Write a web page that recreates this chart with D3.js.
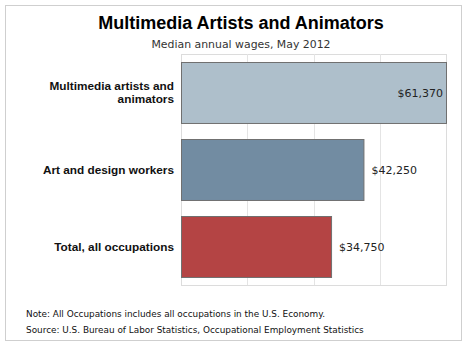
<!DOCTYPE html>
<html><head><meta charset="utf-8">
<script src="https://cdn.jsdelivr.net/npm/d3@7/dist/d3.min.js"></script>
<style>
html,body{margin:0;padding:0;background:#fff;}
svg{display:block;}
</style></head>
<body>
<svg id="chart" width="467" height="347"></svg>
<script>
const categories = ["Multimedia artists and animators", "Art and design workers", "Total, all occupations"];
const categoryLines = [["Multimedia artists and", "animators"], ["Art and design workers"], ["Total, all occupations"]];
const wages = [61370, 42250, 34750];
const valueLabels = ["$61,370", "$42,250", "$34,750"];
const barColors = ["#aebfcb", "#728ca2", "#b44444"];
const title = "Multimedia Artists and Animators";
const subtitle = "Median annual wages, May 2012";
const notes = ["Note: All Occupations includes all occupations in the U.S. Economy.",
               "Source: U.S. Bureau of Labor Statistics, Occupational Employment Statistics"];

const svg = d3.select("#chart");
const plot = {left: 181, right: 446, top: 54, bottom: 285};

// outer frame
svg.append("rect").attr("x", 5.5).attr("y", 5.5).attr("width", 456).attr("height", 335)
  .attr("fill", "#fff").attr("stroke", "#cfcfcf").attr("stroke-width", 1);

svg.append("text").attr("x", 241).attr("y", 29).attr("text-anchor", "middle")
  .attr("font-family", "Liberation Sans, Arial, sans-serif").attr("font-weight", "bold")
  .attr("font-size", 18).attr("fill", "#000").text(title);
svg.append("text").attr("x", 241).attr("y", 48).attr("text-anchor", "middle")
  .attr("font-family", "DejaVu Sans, Verdana, sans-serif")
  .attr("font-size", 10.9).attr("fill", "#333").text(subtitle);

const x = d3.scaleLinear().domain([0, d3.max(wages)]).range([plot.left, plot.right]);
const y = d3.scaleBand().domain(categories).range([plot.top, plot.bottom])
  .paddingInner(0.208).paddingOuter(0.104);

// plot border
svg.append("rect").attr("x", plot.left + 0.5).attr("y", plot.top + 0.5)
  .attr("width", plot.right - plot.left).attr("height", plot.bottom - plot.top)
  .attr("fill", "#fff").attr("stroke", "#dcdcdc");

// gridlines
const gridTicks = d3.range(1, 4).map(i => d3.max(wages) * i / 4);
svg.append("g").selectAll("line").data(gridTicks).join("line")
  .attr("x1", d => Math.round(x(d)) + 0.5).attr("x2", d => Math.round(x(d)) + 0.5)
  .attr("y1", plot.top).attr("y2", plot.bottom)
  .attr("stroke", "#e4e4e4");

// bars
svg.append("g").selectAll("rect").data(wages).join("rect")
  .attr("x", plot.left + 0.5)
  .attr("y", (d, i) => Math.round(y(categories[i])) + 0.5)
  .attr("width", d => x(d) - plot.left)
  .attr("height", y.bandwidth())
  .attr("fill", (d, i) => barColors[i])
  .attr("stroke", "#707070").attr("stroke-width", 1);

// value labels
svg.append("g").selectAll("text").data(wages).join("text")
  .attr("x", (d, i) => i === 0 ? x(d) - 3 : x(d) + 8)
  .attr("y", (d, i) => y(categories[i]) + y.bandwidth() / 2 + 4)
  .attr("text-anchor", (d, i) => i === 0 ? "end" : "start")
  .attr("font-family", "DejaVu Sans, Verdana, sans-serif")
  .attr("font-size", 11).attr("fill", "#222")
  .text((d, i) => valueLabels[i]);

// category labels
const cat = svg.append("g").selectAll("text").data(categories).join("text")
  .attr("text-anchor", "end")
  .attr("font-family", "Liberation Sans, Arial, sans-serif").attr("font-weight", "bold")
  .attr("font-size", 11.8).attr("fill", "#111");
cat.each(function(d, i) {
  const lines = categoryLines[i];
  const cy = y(d) + y.bandwidth() / 2;
  const startY = cy + 4 - (lines.length - 1) * 6.5;
  d3.select(this).selectAll("tspan").data(lines).join("tspan")
    .attr("x", 174).attr("y", (l, j) => startY + j * 13).text(l => l);
});

// notes
svg.append("g").selectAll("text").data(notes).join("text")
  .attr("x", 26).attr("y", (d, i) => 317 + i * 16)
  .attr("font-family", "DejaVu Sans, Verdana, sans-serif")
  .attr("font-size", 8.9).attr("fill", "#111").text(d => d);
</script>
</body></html>
